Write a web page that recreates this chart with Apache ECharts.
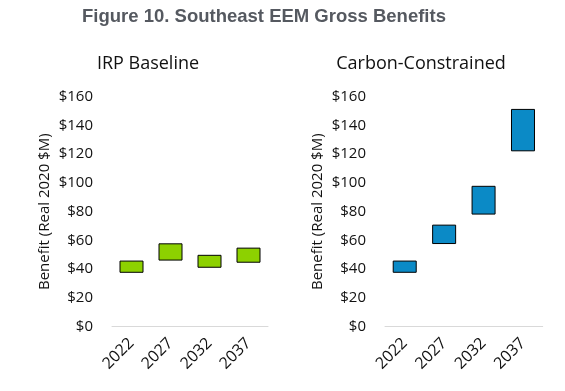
<!DOCTYPE html>
<html><head><meta charset="utf-8">
<script src="https://cdn.jsdelivr.net/npm/echarts@6/dist/echarts.min.js"></script>
<style>html,body{margin:0;padding:0;background:#fff}#c{width:565px;height:391px}</style>
</head><body><div id="c"></div>
<script>
const categories = ['2022', '2027', '2032', '2037'];
const irpLow = [37.5, 46, 41, 44.5];
const irpHigh = [46, 58, 50, 55];
const carbonLow = [37.5, 57.5, 78, 122];
const carbonHigh = [46, 71, 98, 151.5];
const yTicks = ['$0', '$20', '$40', '$60', '$80', '$100', '$120', '$140', '$160'];

const chart = echarts.init(document.getElementById('c'), null, {renderer: 'canvas'});
const font = 'Open Sans';
function xAxis(i) {
  return {
    type: 'category', gridIndex: i, data: categories,
    axisLine: {lineStyle: {color: '#d9d9d9', width: 1}},
    axisTick: {show: false},
    axisLabel: {rotate: 45, color: '#111', fontFamily: font, fontSize: 16, margin: 14}
  };
}
function yAxis(i) {
  return {
    type: 'value', gridIndex: i, min: 0, max: 160, interval: 20,
    name: 'Benefit (Real 2020 $M)', nameLocation: 'middle', nameGap: 60, nameRotate: 90,
    nameTextStyle: {color: '#111', fontFamily: font, fontSize: 15},
    splitLine: {show: false}, axisLine: {show: false}, axisTick: {show: false},
    axisLabel: {color: '#111', fontFamily: font, fontSize: 15, margin: 19,
      formatter: v => yTicks[Math.round(v / 20)]}
  };
}
function floating(i, low, high, color) {
  return [
    {type: 'bar', xAxisIndex: i, yAxisIndex: i, stack: 's' + i, data: low, barWidth: 24,
      itemStyle: {color: 'transparent'}, silent: true},
    {type: 'bar', xAxisIndex: i, yAxisIndex: i, stack: 's' + i,
      data: high.map((h, k) => +(h - low[k]).toFixed(2)), barWidth: 24,
      itemStyle: {color: color, borderColor: '#000', borderWidth: 1}}
  ];
}
chart.setOption({
  animation: false,
  title: [
    {text: 'Figure 10. Southeast EEM Gross Benefits', left: 259, top: 2, textAlign: 'center',
      textStyle: {fontFamily: 'Liberation Sans', fontWeight: 'bold', fontSize: 18.5, color: '#555960'}},
    {text: 'IRP Baseline', left: 143, top: 50, textAlign: 'center',
      textStyle: {fontFamily: font, fontWeight: 'normal', fontSize: 18, color: '#111'}},
    {text: 'Carbon-Constrained', left: 416, top: 50, textAlign: 'center',
      textStyle: {fontFamily: font, fontWeight: 'normal', fontSize: 18, color: '#111'}}
  ],
  grid: [
    {left: 112, width: 156, top: 96.7, height: 230},
    {left: 385, width: 157.7, top: 96.7, height: 230}
  ],
  xAxis: [xAxis(0), xAxis(1)],
  yAxis: [yAxis(0), yAxis(1)],
  series: [].concat(floating(0, irpLow, irpHigh, '#8DD100'), floating(1, carbonLow, carbonHigh, '#0B8AC6'))
});
</script></body></html>
